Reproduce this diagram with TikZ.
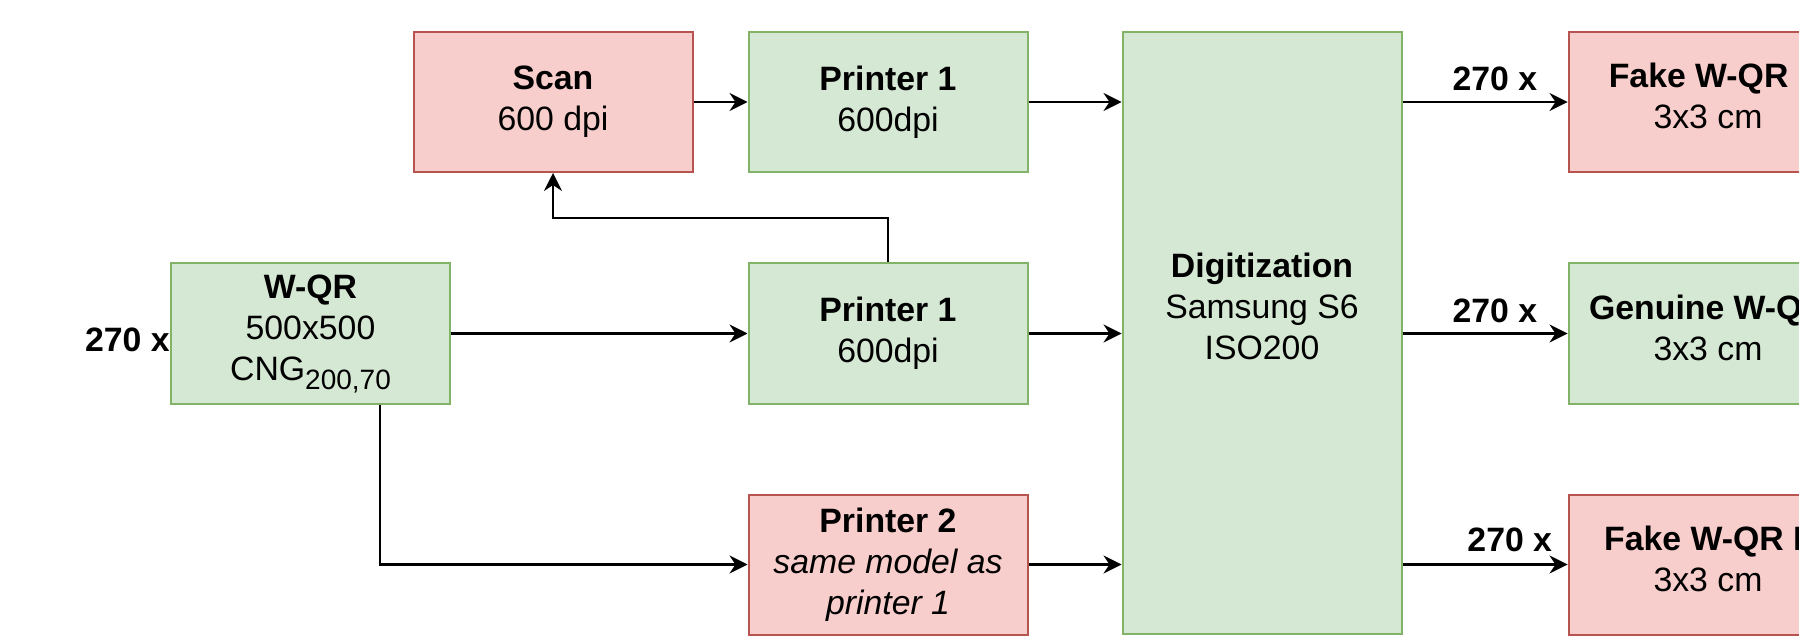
\documentclass[tikz,border=0pt]{standalone}
\usepackage{fontspec}
\setmainfont{Liberation Sans}
\usetikzlibrary{arrows.meta,calc}
\definecolor{gfill}{HTML}{D5E8D4}
\definecolor{gline}{HTML}{82B366}
\definecolor{rfill}{HTML}{F8CECC}
\definecolor{rline}{HTML}{B85450}
\begin{document}
\begin{tikzpicture}[x=0.5pt,y=-0.5pt,
  every node/.style={font=\fontsize{16.9pt}{20.5pt}\selectfont},
  box/.style={draw, line width=1pt, align=center, inner sep=0pt, minimum width=139.5pt, minimum height=70pt},
  gbox/.style={box, fill=gfill, draw=gline},
  rbox/.style={box, fill=rfill, draw=rline},
  conn/.style={line width=1.1pt, -{Stealth[length=9pt,width=9pt,inset=3pt]}},
  lab/.style={font=\fontsize{16.9pt}{20.5pt}\selectfont\bfseries, inner sep=0pt}
]
\useasboundingbox (0,0) rectangle (1799,636);
\clip (0,0) rectangle (1799,636);
\fill[white] (0,0) rectangle (1799,636);

\node[rbox] (scan) at (553,102) {\textbf{Scan}\\600 dpi};
\node[gbox] (p1a) at (888,102) {\textbf{Printer 1}\\600dpi};
\node[gbox] (wqr) at (310.5,333.5) {\textbf{W-QR}\\500x500\\CNG\raisebox{-4.5pt}{\fontsize{14pt}{14pt}\selectfont 200,70}};
\node[gbox] (p1b) at (888,333.5) {\textbf{Printer 1}\\600dpi};
\node[rbox] (p2) at (888,564.5) {\textbf{Printer 2}\\\itshape same model as\\\itshape printer 1};
\node[gbox, minimum height=301pt] (dig) at (1262,333) {\textbf{Digitization}\\Samsung S6\\ISO200\\[6pt]};
\node[rbox] (f1) at (1708,102) {\textbf{Fake W-QR I}\\3x3 cm\\[-14.5pt]};
\node[gbox] (gen) at (1708,333.5) {\textbf{Genuine W-QR}\\3x3 cm\\[-14.5pt]};
\node[rbox] (f2) at (1708,564.5) {\textbf{Fake W-QR II}\\3x3 cm\\[-14.5pt]};

\node[lab, anchor=east, yshift=-3.25pt] (l0) at (wqr.west) {270 x};

\draw[conn] (scan.east) -- (p1a.west);
\draw[conn] (p1a.east) -- (p1a.east -| dig.west);
\draw[conn] (wqr.east) -- (p1b.west);
\draw[conn] (p1b.east) -- (p1b.east -| dig.west);
\draw[conn] (p2.east) -- (p2.east -| dig.west);
\draw[conn] (p1b.north) |- ($(scan.south)!0.5!(scan.south |- p1b.north)$) -| (scan.south);
\draw[conn] ([xshift=34.75pt]wqr.south) |- (p2.west);

\draw[conn] (f1.west -| dig.east) -- node[lab, pos=0.56, anchor=south, yshift=5pt] (l1) {270 x} (f1.west);
\draw[conn] (gen.west -| dig.east) -- node[lab, pos=0.56, anchor=south, yshift=5pt] (l2) {270 x} (gen.west);
\draw[conn] (f2.west -| dig.east) -- node[lab, pos=0.65, anchor=south, yshift=6pt] (l3) {270 x} (f2.west);
\end{tikzpicture}
\end{document}
